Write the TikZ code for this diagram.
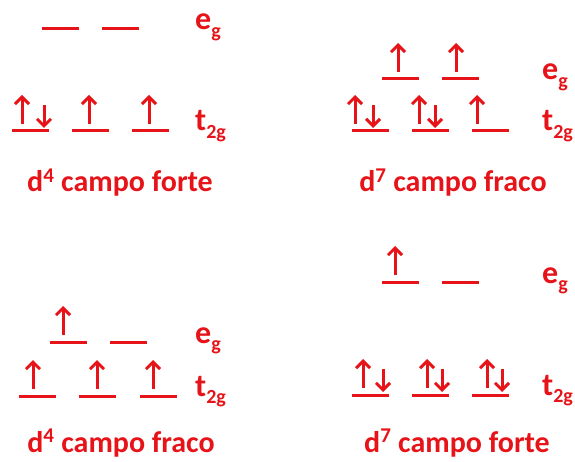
\documentclass[tikz,border=0pt]{standalone}
\usepackage{fontspec}
\setmainfont{Carlito}
\usetikzlibrary{arrows.meta}
\definecolor{spinred}{RGB}{230,20,25}
\newcommand{\orbsub}[1]{\raisebox{-0.24em}{\fontsize{20}{20}\selectfont #1}}

\begin{document}
\begin{tikzpicture}[x=1pt, y=-1pt, spinred,
  lvl/.style={line width=3pt},
  spinup/.style={-{Straight Barb[length=7pt, width=14pt]}, line width=3pt},
  spindn/.style={-{Straight Barb[length=7pt, width=14pt]}, line width=3pt},
  orb/.style={font=\bfseries\fontsize{32}{36}\selectfont, anchor=base west, inner sep=0pt},
  ttl/.style={font=\bfseries\fontsize{30}{34}\selectfont, anchor=base, inner sep=0pt},
]
  \useasboundingbox (0,0) rectangle (575,462);
  % niveis: inicio em x, altura em y
  \foreach \xs/\ys in {42/29, 102/29, 12/131, 72/131, 132/131,%
    382/79, 442/79, 352/131, 412/131, 472/131,%
    50/342, 110/342, 19/396, 79/396, 140/396,%
    382/282, 442/282, 352/395, 412/395, 472/395} {
    \draw[lvl] (\xs,\ys) -- ++(37,0);
  }
  % eletrons
  \foreach \xs/\ys in {22/131, 89/131, 149/131,%
    398/79, 456/79, 355/131, 419/131, 477/131,%
    63/342, 33/396, 97/396, 153/396,%
    395/282, 363/395, 427/395, 487/395} {
    \draw[spinup] (\xs,\ys-7) -- (\xs,\ys-36);
  }
  \foreach \xs/\ys in {44/131, 373/131, 435/131, 383/395, 442/395, 502/395} {
    \draw[spindn] (\xs,\ys-26) -- (\xs,\ys-3);
  }
  % rotulos
  \node[orb] (eg1) at (195,30)  {e\orbsub{g}};
  \node[orb] (tg1) at (195,131) {t\orbsub{2g}};
  \node[orb] (eg2) at (542,80)  {e\orbsub{g}};
  \node[orb] (tg2) at (542,131) {t\orbsub{2g}};
  \node[orb] (eg3) at (195,343) {e\orbsub{g}};
  \node[orb] (tg3) at (195,396) {t\orbsub{2g}};
  \node[orb] (eg4) at (542,283) {e\orbsub{g}};
  \node[orb] (tg4) at (542,395) {t\orbsub{2g}};
  \node[ttl] (t1) at (120,192) {d\textsuperscript{4} campo forte};
  \node[ttl] (t2) at (453,192) {d\textsuperscript{7} campo fraco};
  \node[ttl] (t3) at (121,452) {d\textsuperscript{4} campo fraco};
  \node[ttl] (t4) at (457,452) {d\textsuperscript{7} campo forte};
\end{tikzpicture}
\end{document}
